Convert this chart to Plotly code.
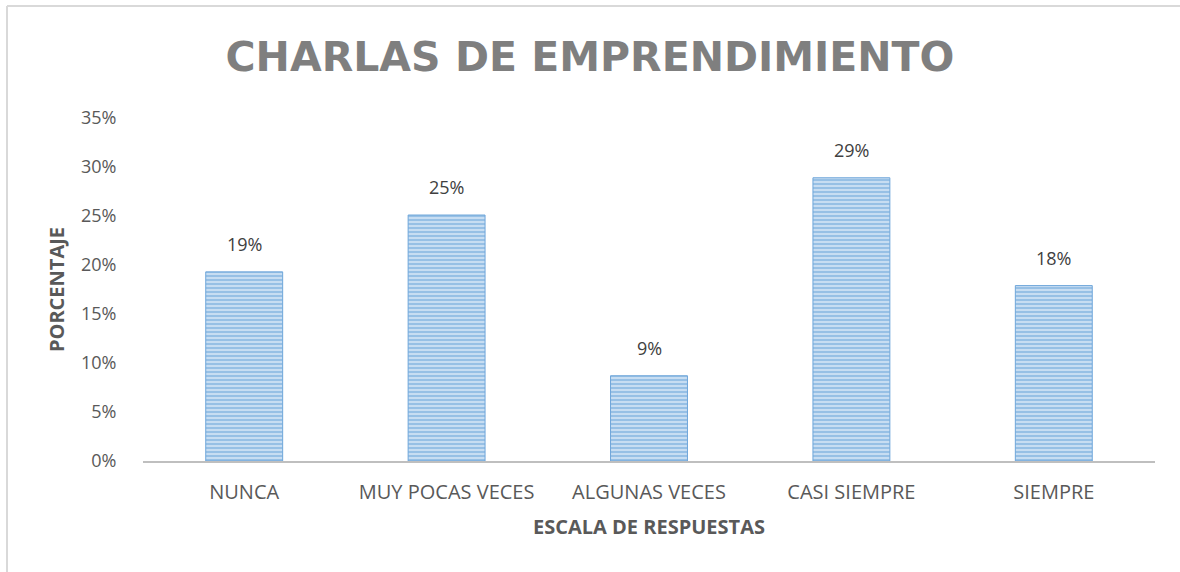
import plotly.graph_objects as go

categories = ["NUNCA", "MUY POCAS VECES", "ALGUNAS VECES", "CASI SIEMPRE", "SIEMPRE"]
values = [0.193, 0.251, 0.087, 0.289, 0.179]
labels = ["19%", "25%", "9%", "29%", "18%"]
tick_vals = [0, 0.05, 0.10, 0.15, 0.20, 0.25, 0.30, 0.35]
tick_text = ["0%", "5%", "10%", "15%", "20%", "25%", "30%", "35%"]

FONT = "Open Sans"

fig = go.Figure()
fig.add_trace(go.Bar(
    x=categories, y=values,
    marker=dict(
        color="#BDD7EE",
        line=dict(color="#6FA6DA", width=1),
        pattern=dict(shape="-", fgcolor="#5B9BD5", bgcolor="#D2E4F5",
                     size=4, solidity=0.6, fillmode="overlay"),
    ),
    hoverinfo="x+y",
))

annotations = [
    dict(x=c, y=v, text=t, xref="x", yref="y", showarrow=False,
         yanchor="bottom", yshift=14,
         font=dict(family=FONT, size=18, color="#404040"))
    for c, v, t in zip(categories, values, labels)
]

border = dict(color="#D9D9D9", width=2)
fig.update_layout(
    width=1180, height=572,
    paper_bgcolor="white", plot_bgcolor="white",
    margin=dict(l=143, r=25, t=118, b=111),
    bargap=0.62,
    showlegend=False,
    annotations=annotations,
    title=dict(text="<b>CHARLAS DE EMPRENDIMIENTO</b>", x=0.5, xanchor="center",
               y=1 - 57 / 572, yanchor="middle",
               font=dict(family="DejaVu Sans", size=41, color="#7F7F7F")),
    font=dict(family=FONT, color="#595959"),
    xaxis=dict(
        showline=True, linecolor="#BFBFBF", linewidth=2,
        tickfont=dict(family=FONT, size=20, color="#595959"),
        ticks="outside", ticklen=12, tickcolor="rgba(0,0,0,0)",
        title=dict(text="<b>ESCALA DE RESPUESTAS</b>", standoff=16,
                   font=dict(family=FONT, size=20, color="#595959")),
    ),
    yaxis=dict(
        range=[0, 0.35], tickvals=tick_vals, ticktext=tick_text,
        showgrid=False, zeroline=False, showline=False,
        tickfont=dict(family=FONT, size=18, color="#595959"),
        ticks="outside", ticklen=22, tickcolor="rgba(0,0,0,0)",
        title=dict(text="<b>PORCENTAJE</b>", standoff=10,
                   font=dict(family=FONT, size=20, color="#595959")),
    ),
    shapes=[
        dict(type="line", xref="paper", yref="paper",
             x0=-136 / 1012, x1=-136 / 1012, y0=-0.4, y1=1 + 112 / 343,
             line=border, layer="below"),
        dict(type="line", xref="paper", yref="paper",
             x0=-136 / 1012, x1=1.1, y0=1 + 112 / 343, y1=1 + 112 / 343,
             line=border, layer="below"),
    ],
)

fig.write_html(
    "out.html", config={"displayModeBar": False},
    post_script=("document.body.style.margin='0';"
                 "document.body.style.overflow='hidden';"
                 "document.documentElement.style.overflow='hidden';"),
)
